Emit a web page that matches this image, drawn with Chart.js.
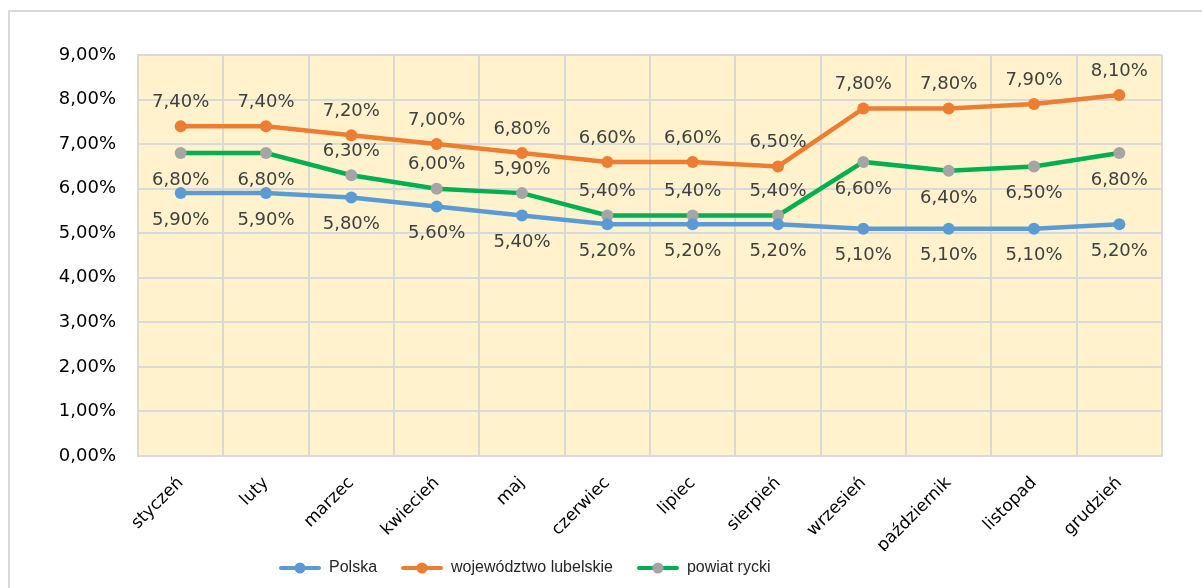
<!DOCTYPE html>
<html>
<head>
<meta charset="utf-8">
<script src="https://cdn.jsdelivr.net/npm/chart.js@4"></script>
<style>
  html, body { margin: 0; padding: 0; background: #fff; overflow: hidden; }
  #wrap { position: relative; width: 1202px; height: 588px; }
</style>
</head>
<body>
<div id="wrap"><canvas id="chart" width="1202" height="588"></canvas></div>
<script>
// ---- data ----
const months = ['styczeń', 'luty', 'marzec', 'kwiecień', 'maj', 'czerwiec',
                'lipiec', 'sierpień', 'wrzesień', 'październik', 'listopad', 'grudzień'];
const polska    = [5.9, 5.9, 5.8, 5.6, 5.4, 5.2, 5.2, 5.2, 5.1, 5.1, 5.1, 5.2];
const lubelskie = [7.4, 7.4, 7.2, 7.0, 6.8, 6.6, 6.6, 6.5, 7.8, 7.8, 7.9, 8.1];
const rycki     = [6.8, 6.8, 6.3, 6.0, 5.9, 5.4, 5.4, 5.4, 6.6, 6.4, 6.5, 6.8];
const seriesNames = ['Polska', 'województwo lubelskie', 'powiat rycki'];
const yMin = 0, yMax = 9, yStep = 1;

const fmt = v => v.toFixed(2).replace('.', ',') + '%';

// legend icon: line with a dot in the middle
function legendIcon(lineColor, dotColor) {
    const c = document.createElement('canvas');
    c.width = 42; c.height = 12;
    const g = c.getContext('2d');
    g.strokeStyle = lineColor; g.lineWidth = 4; g.lineCap = 'round';
    g.beginPath(); g.moveTo(2, 6); g.lineTo(40, 6); g.stroke();
    g.fillStyle = dotColor;
    g.beginPath(); g.arc(21, 6, 5.5, 0, Math.PI * 2); g.fill();
    return c;
}

// background of plot + outer frame
const backgroundPlugin = {
    id: 'bg',
    beforeDraw(chart) {
        const { ctx, chartArea: a } = chart;
        ctx.save();
        ctx.fillStyle = '#FFF2CC';
        ctx.fillRect(a.left, a.top, a.right - a.left, a.bottom - a.top);
        ctx.strokeStyle = '#D9D9D9';
        ctx.lineWidth = 2;
        ctx.beginPath();
        ctx.moveTo(9, chart.height);
        ctx.lineTo(9, 11);
        ctx.lineTo(chart.width, 11);
        ctx.stroke();
        ctx.restore();
    }
};

// value labels next to points
const valueLabels = {
    id: 'valueLabels',
    afterDatasetsDraw(chart) {
        const ctx = chart.ctx;
        ctx.save();
        ctx.font = '18px "DejaVu Sans"';
        ctx.fillStyle = '#404040';
        ctx.textAlign = 'center';
        ctx.textBaseline = 'middle';
        chart.data.datasets.forEach((ds, i) => {
            const meta = chart.getDatasetMeta(i);
            meta.data.forEach((pt, j) => {
                const pos = ds.labelPos[j];
                const dy = pos === 'above' ? -24 : 27;
                ctx.fillText(fmt(ds.data[j]), pt.x, pt.y + dy);
            });
        });
        ctx.restore();
    }
};

// place legend like in the original (left of centre, near bottom)
const legendPlace = {
    id: 'legendPlace',
    afterLayout(chart) {
        const lg = chart.legend;
        const w = lg.right - lg.left;
        lg.left = 255;
        lg.right = lg.left + w;
        const h = lg.bottom - lg.top;
        lg.top = 536;
        lg.bottom = lg.top + h;
    }
};

const icons = [
    legendIcon('#5B9BD5', '#5B9BD5'),
    legendIcon('#ED7D31', '#ED7D31'),
    legendIcon('#00B050', '#A5A5A5')
];

new Chart(document.getElementById('chart'), {
    type: 'line',
    data: {
        labels: months,
        datasets: [
            {
                label: seriesNames[0], data: polska,
                borderColor: '#5B9BD5', backgroundColor: '#5B9BD5',
                pointBackgroundColor: '#5B9BD5', pointBorderColor: '#5B9BD5',
                labelPos: Array(12).fill('below')
            },
            {
                label: seriesNames[1], data: lubelskie,
                borderColor: '#ED7D31', backgroundColor: '#ED7D31',
                pointBackgroundColor: '#ED7D31', pointBorderColor: '#ED7D31',
                labelPos: Array(12).fill('above')
            },
            {
                label: seriesNames[2], data: rycki,
                borderColor: '#00B050', backgroundColor: '#00B050',
                pointBackgroundColor: '#A5A5A5', pointBorderColor: '#A5A5A5',
                labelPos: ['below', 'below', 'above', 'above', 'above', 'above',
                           'above', 'above', 'below', 'below', 'below', 'below']
            }
        ]
    },
    options: {
        responsive: false,
        animation: false,
        layout: { padding: { left: 20, right: 40, top: 55, bottom: -13 } },
        elements: {
            line: { borderWidth: 4.5, tension: 0 },
            point: { radius: 6, hoverRadius: 6, borderWidth: 0, pointStyle: 'circle' }
        },
        plugins: {
            legend: {
                position: 'bottom',
                align: 'start',
                labels: {
                    usePointStyle: true,
                    pointStyleWidth: 42,
                    padding: 24,
                    color: '#262626',
                    font: { family: '"Liberation Sans"', size: 16 },
                    generateLabels(chart) {
                        return chart.data.datasets.map((ds, i) => ({
                            text: ds.label,
                            pointStyle: icons[i],
                            fillStyle: ds.borderColor,
                            strokeStyle: ds.borderColor,
                            lineWidth: 0,
                            hidden: false,
                            datasetIndex: i,
                            fontColor: '#262626'
                        }));
                    }
                }
            },
            tooltip: { enabled: false }
        },
        scales: {
            x: {
                offset: true,
                grid: { offset: true, color: '#D9D9D9', lineWidth: 2, drawTicks: false },
                border: { color: '#D9D9D9', width: 2 },
                ticks: {
                    maxRotation: 45, minRotation: 45, padding: 17,
                    color: '#000',
                    font: { family: '"DejaVu Sans"', size: 17 }
                },
                afterFit(scale) { scale.height = 95; }
            },
            y: {
                min: yMin, max: yMax,
                grid: { color: '#D9D9D9', lineWidth: 2, drawTicks: false },
                border: { color: '#D9D9D9', width: 2 },
                ticks: {
                    stepSize: yStep, padding: 22,
                    color: '#000',
                    font: { family: '"DejaVu Sans"', size: 18 },
                    callback: v => fmt(v)
                },
                afterFit(scale) { scale.width = 118; }
            }
        }
    },
    plugins: [backgroundPlugin, valueLabels, legendPlace]
});
</script>
</body>
</html>
